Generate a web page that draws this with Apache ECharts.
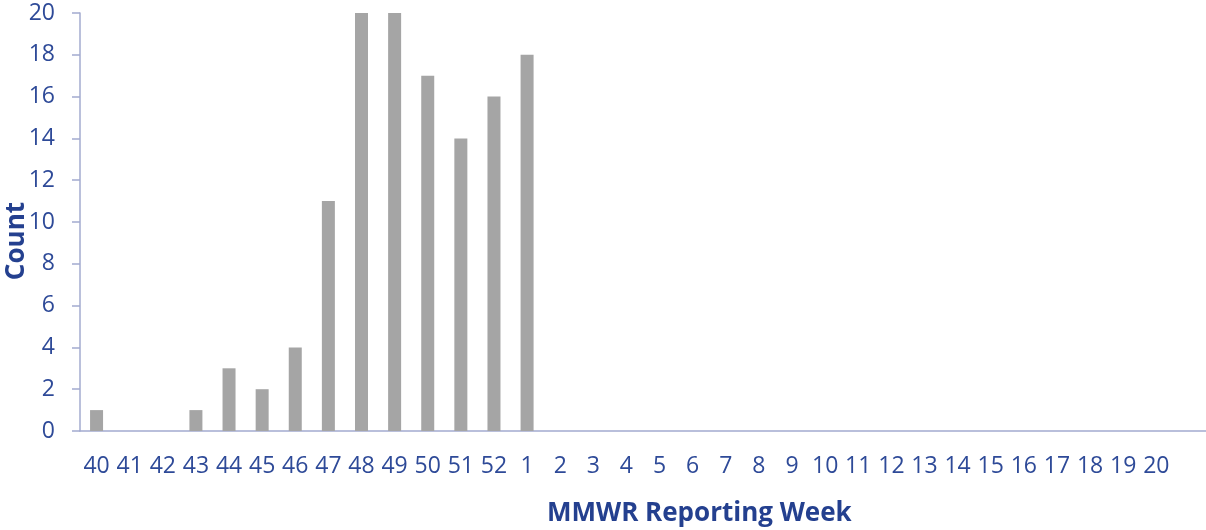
<!DOCTYPE html>
<html>
<head>
<meta charset="utf-8">
<script src="https://cdn.jsdelivr.net/npm/echarts@6/dist/echarts.min.js"></script>
<style>
html,body{margin:0;padding:0;background:#fff;}
#chart{width:1206px;height:530px;}
</style>
</head>
<body>
<div id="chart"></div>
<script>
var weeks = ['40','41','42','43','44','45','46','47','48','49','50','51','52','1','2','3','4','5','6','7','8','9','10','11','12','13','14','15','16','17','18','19','20',''];
var counts = [1,0,0,1,3,2,4,11,20,20,17,14,16,18,0,0,0,0,0,0,0,0,0,0,0,0,0,0,0,0,0,0,0,null];
var yTicks = {min:0, max:20, interval:2};
var xTitle = 'MMWR Reporting Week';
var yTitle = 'Count';

var textColor = '#2e4a98';
var titleColor = '#24408f';
var axisColor = '#a3abcf';
var font = '"Open Sans", "Noto Sans", sans-serif';

var chart = echarts.init(document.getElementById('chart'), null, {renderer:'canvas'});
chart.setOption({
  animation:false,
  backgroundColor:'#ffffff',
  title:{
    text:xTitle,
    left:542, top:496,
    textStyle:{color:titleColor, fontFamily:font, fontWeight:'bold', fontSize:26}
  },
  graphic:[{
    type:'text',
    left:4, top:202,
    rotation:Math.PI/2,
    style:{text:yTitle, fill:titleColor, font:'bold 26px "Open Sans", "Noto Sans", sans-serif'}
  }],
  grid:{left:80, right:0, top:13, bottom:99, containLabel:false},
  xAxis:{
    type:'category',
    data:weeks,
    axisLine:{lineStyle:{color:axisColor, width:1.5}},
    axisTick:{show:false},
    axisLabel:{color:textColor, fontFamily:font, fontSize:23, margin:24, interval:0}
  },
  yAxis:{
    type:'value',
    min:yTicks.min, max:yTicks.max, interval:yTicks.interval,
    axisLine:{show:true, lineStyle:{color:axisColor, width:1.5}},
    axisTick:{show:true, length:8, lineStyle:{color:axisColor, width:1.5}},
    splitLine:{show:false},
    axisLabel:{color:textColor, fontFamily:font, fontSize:23, margin:25}
  },
  series:[{
    type:'bar',
    data:counts,
    barWidth:13,
    itemStyle:{color:'#a5a5a5'}
  }]
});
</script>
</body>
</html>
